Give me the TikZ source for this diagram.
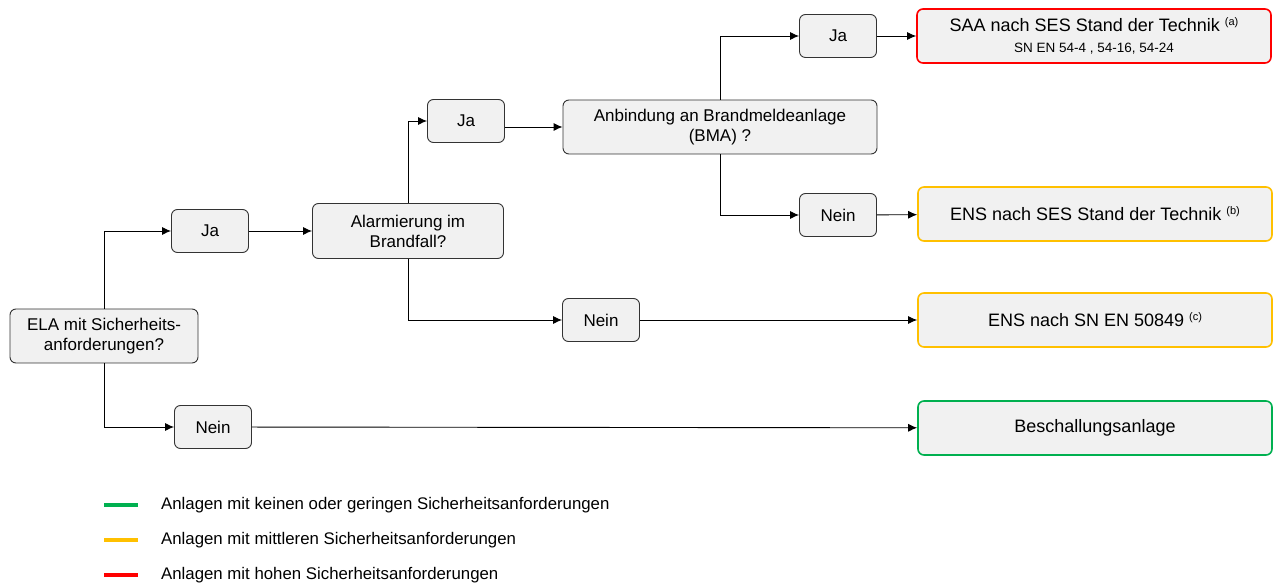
\documentclass[tikz,border=0pt]{standalone}
\usepackage{fontspec}
\setmainfont{Liberation Sans}
\usetikzlibrary{arrows.meta}

\definecolor{boxfill}{HTML}{F1F1F1}
\definecolor{boxline}{HTML}{333333}
\definecolor{lowgreen}{HTML}{00B050}
\definecolor{midyellow}{HTML}{FFC000}
\definecolor{highred}{HTML}{FF0000}

\newcommand{\refmark}[1]{\raisebox{6pt}{\fontsize{11}{11}\selectfont(#1)}}

\tikzset{
    box/.style={draw=boxline, fill=boxfill, rounded corners=6pt, align=center,
        inner sep=0pt, line width=0.9pt, font=\fontsize{17}{20}\selectfont},
    answer/.style={box, minimum width=77pt, minimum height=43pt},
    result/.style={box, line width=1.6pt, minimum width=354pt, minimum height=54pt,
        font=\fontsize{18}{22}\selectfont},
    arr/.style={-{Latex[length=9pt,width=8pt]}, line width=0.9pt},
}

\begin{document}
\begin{tikzpicture}[x=1pt, y=-1pt]
    \useasboundingbox (0,0) rectangle (1278,585);

    % questions
    \node[box, minimum width=188pt, minimum height=54pt] (ela) at (104,336) {ELA mit Sicherheits-\\anforderungen?};
    \node[box, minimum width=191pt, minimum height=55pt] (alarm) at (408,231) {Alarmierung im\\Brandfall?};
    \node[box, minimum width=314pt, minimum height=54pt] (bma) at (720,127) {Anbindung an Brandmeldeanlage\\(BMA) ?};

    % answers
    \node[answer] (ja1) at (210,231) {Ja};
    \node[answer] (nein1) at (213,427) {Nein};
    \node[answer] (ja2) at (466,121) {Ja};
    \node[answer] (nein2) at (601,320) {Nein};
    \node[answer] (ja3) at (838,36) {Ja};
    \node[answer] (nein3) at (838,215) {Nein};

    % results
    \node[result, draw=highred] (saa) at (1094,36) {SAA nach SES Stand der Technik \refmark{a}\\[-1pt]{\fontsize{13.5}{16}\selectfont SN EN 54-4 , 54-16, 54-24}};
    \node[result, draw=midyellow] (ensb) at (1095,214) {ENS nach SES Stand der Technik \refmark{b}};
    \node[result, draw=midyellow] (ensc) at (1095,320) {ENS nach SN EN 50849 \refmark{c}};
    \node[result, draw=lowgreen] (besch) at (1095,428) {Beschallungsanlage};

    \draw[arr] (ela.north) |- (ja1);
    \draw[arr] (ela.south) |- (nein1);
    \draw[arr] (ja1) -- (alarm);
    \draw[arr] (alarm.north) |- (ja2);
    \draw[arr] (alarm.south) |- (nein2);
    \draw[arr] (ja2.east |- bma) -- (bma);
    \draw[arr] (bma.north) |- (ja3);
    \draw[arr] (bma.south) |- (nein3);
    \draw[arr] (ja3) -- (saa);
    \draw[arr] (nein3) -- (ensb);
    \draw[arr] (nein2) -- (ensc);
    \draw[arr] (nein1) -- (besch);

    % legend
    \foreach \col/\txt [count=\i] in {lowgreen/Anlagen mit keinen oder geringen Sicherheitsanforderungen,
        midyellow/Anlagen mit mittleren Sicherheitsanforderungen,
        highred/Anlagen mit hohen Sicherheitsanforderungen} {
        \draw[\col, line width=4pt] (104,470+35*\i) -- (138,470+35*\i);
        \node[anchor=west, inner sep=0pt, font=\fontsize{16.8}{20}\selectfont] (legend\i) at (161,470+35*\i) {\txt};
    }
\end{tikzpicture}
\end{document}
